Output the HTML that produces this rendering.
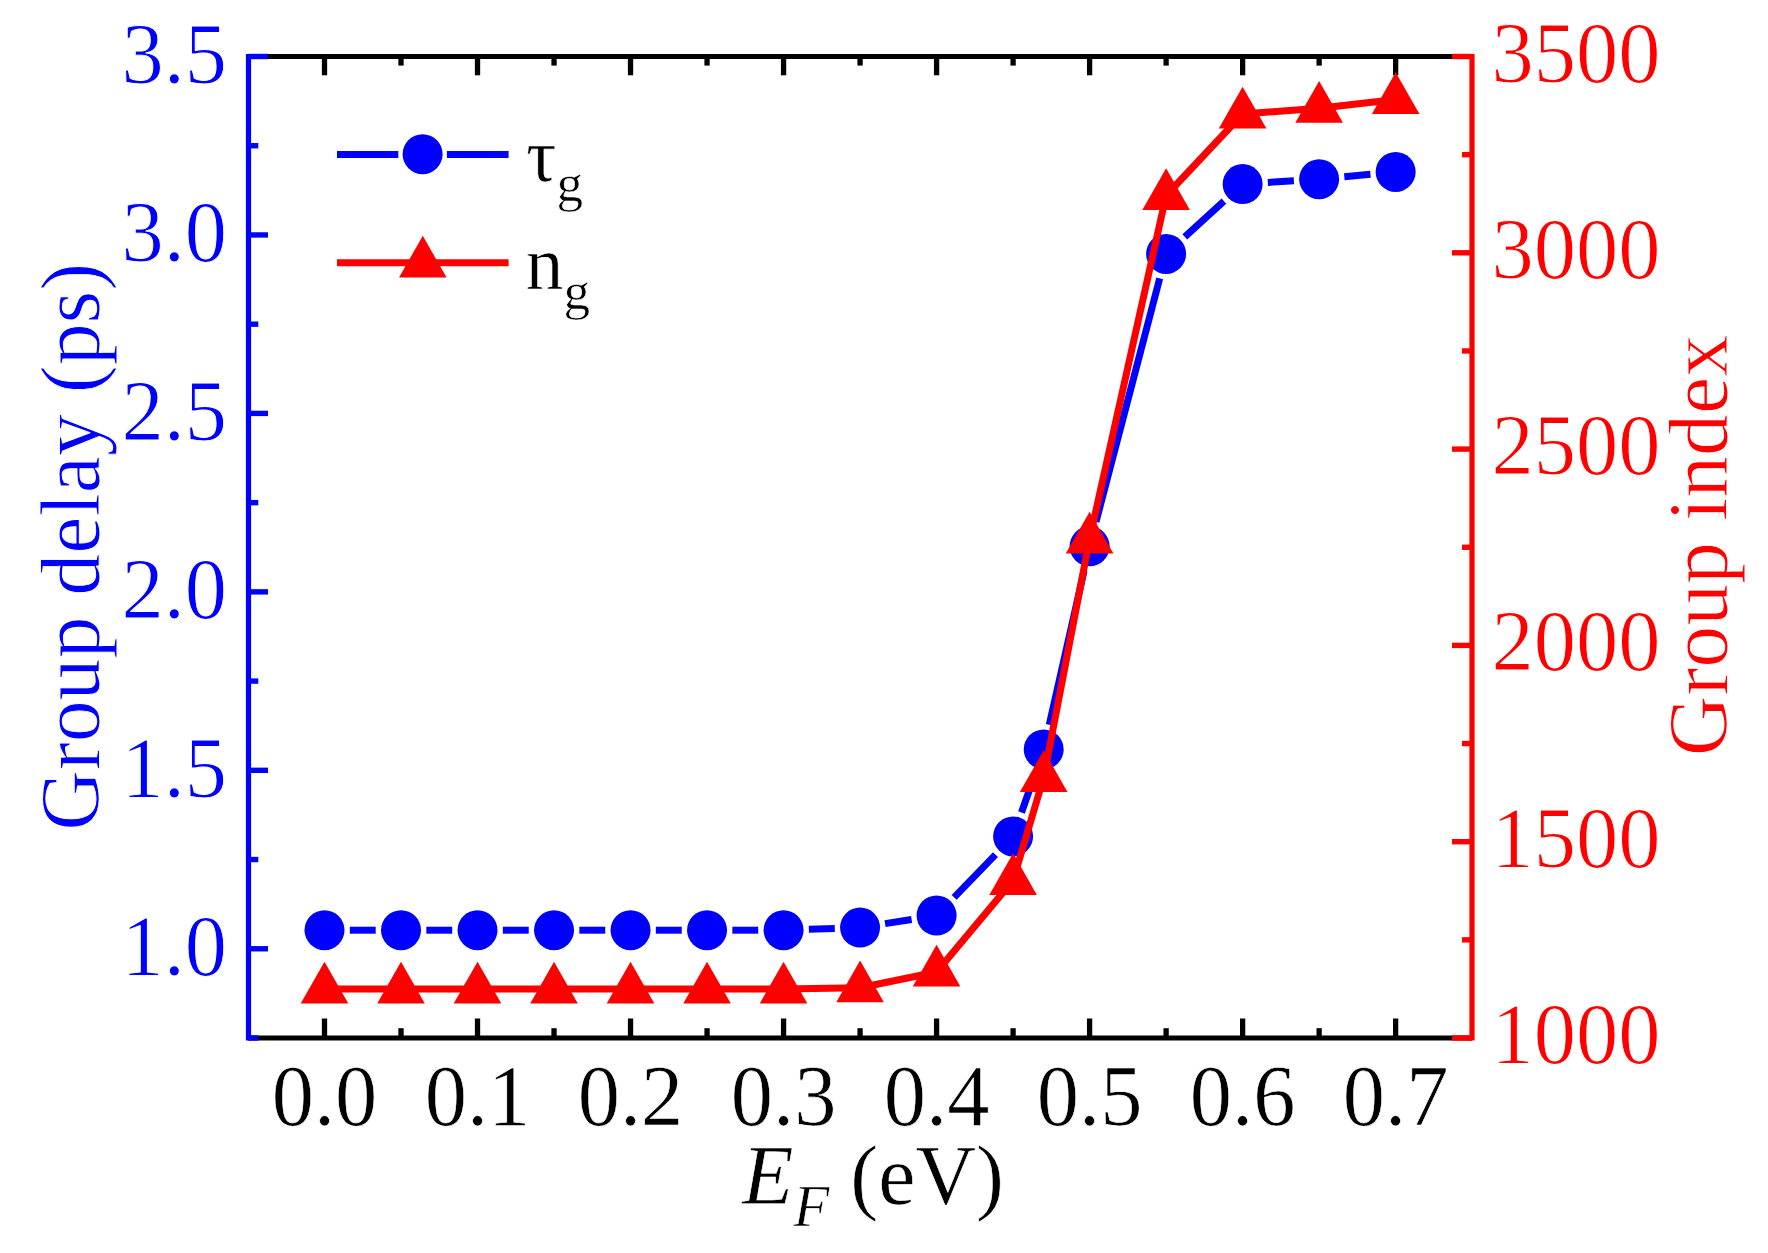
<!DOCTYPE html>
<html lang="en"><head><meta charset="utf-8"><title>Group delay and group index vs E_F</title>
<style>html,body{margin:0;padding:0;background:#fff}svg{display:block}text{font-family:"Liberation Serif","DejaVu Serif",serif;stroke:#fff;stroke-width:0.9px;stroke-linejoin:round}text.k,.k text{stroke-width:0.6px}</style></head><body>
<svg width="1768" height="1253" viewBox="0 0 1768 1253">
<rect width="1768" height="1253" fill="#fff"/>
<g stroke="#000" stroke-width="5.2" fill="none">
<line x1="248.5" y1="56.5" x2="1472.0" y2="56.5"/><line x1="248.5" y1="1038.0" x2="1472.0" y2="1038.0"/>
<line x1="324.50" y1="56.5" x2="324.50" y2="75.3" stroke-width="5.3"/>
<line x1="324.50" y1="1038.0" x2="324.50" y2="1018.5" stroke-width="5.3"/>
<line x1="401.01" y1="56.5" x2="401.01" y2="65.6" stroke-width="5.3"/>
<line x1="401.01" y1="1038.0" x2="401.01" y2="1028.2" stroke-width="5.3"/>
<line x1="477.52" y1="56.5" x2="477.52" y2="75.3" stroke-width="5.3"/>
<line x1="477.52" y1="1038.0" x2="477.52" y2="1018.5" stroke-width="5.3"/>
<line x1="554.03" y1="56.5" x2="554.03" y2="65.6" stroke-width="5.3"/>
<line x1="554.03" y1="1038.0" x2="554.03" y2="1028.2" stroke-width="5.3"/>
<line x1="630.54" y1="56.5" x2="630.54" y2="75.3" stroke-width="5.3"/>
<line x1="630.54" y1="1038.0" x2="630.54" y2="1018.5" stroke-width="5.3"/>
<line x1="707.05" y1="56.5" x2="707.05" y2="65.6" stroke-width="5.3"/>
<line x1="707.05" y1="1038.0" x2="707.05" y2="1028.2" stroke-width="5.3"/>
<line x1="783.56" y1="56.5" x2="783.56" y2="75.3" stroke-width="5.3"/>
<line x1="783.56" y1="1038.0" x2="783.56" y2="1018.5" stroke-width="5.3"/>
<line x1="860.07" y1="56.5" x2="860.07" y2="65.6" stroke-width="5.3"/>
<line x1="860.07" y1="1038.0" x2="860.07" y2="1028.2" stroke-width="5.3"/>
<line x1="936.58" y1="56.5" x2="936.58" y2="75.3" stroke-width="5.3"/>
<line x1="936.58" y1="1038.0" x2="936.58" y2="1018.5" stroke-width="5.3"/>
<line x1="1013.09" y1="56.5" x2="1013.09" y2="65.6" stroke-width="5.3"/>
<line x1="1013.09" y1="1038.0" x2="1013.09" y2="1028.2" stroke-width="5.3"/>
<line x1="1089.60" y1="56.5" x2="1089.60" y2="75.3" stroke-width="5.3"/>
<line x1="1089.60" y1="1038.0" x2="1089.60" y2="1018.5" stroke-width="5.3"/>
<line x1="1166.11" y1="56.5" x2="1166.11" y2="65.6" stroke-width="5.3"/>
<line x1="1166.11" y1="1038.0" x2="1166.11" y2="1028.2" stroke-width="5.3"/>
<line x1="1242.62" y1="56.5" x2="1242.62" y2="75.3" stroke-width="5.3"/>
<line x1="1242.62" y1="1038.0" x2="1242.62" y2="1018.5" stroke-width="5.3"/>
<line x1="1319.13" y1="56.5" x2="1319.13" y2="65.6" stroke-width="5.3"/>
<line x1="1319.13" y1="1038.0" x2="1319.13" y2="1028.2" stroke-width="5.3"/>
<line x1="1395.64" y1="56.5" x2="1395.64" y2="75.3" stroke-width="5.3"/>
<line x1="1395.64" y1="1038.0" x2="1395.64" y2="1018.5" stroke-width="5.3"/>
</g>
<g stroke="#0000ff" stroke-width="5.2" fill="none">
<line x1="248.5" y1="53.9" x2="248.5" y2="1040.6"/>
<line x1="248.5" y1="1038.00" x2="258.3" y2="1038.00" stroke-width="5.4"/>
<line x1="248.5" y1="948.77" x2="268.0" y2="948.77" stroke-width="5.4"/>
<line x1="248.5" y1="859.55" x2="258.3" y2="859.55" stroke-width="5.4"/>
<line x1="248.5" y1="770.32" x2="268.0" y2="770.32" stroke-width="5.4"/>
<line x1="248.5" y1="681.09" x2="258.3" y2="681.09" stroke-width="5.4"/>
<line x1="248.5" y1="591.86" x2="268.0" y2="591.86" stroke-width="5.4"/>
<line x1="248.5" y1="502.64" x2="258.3" y2="502.64" stroke-width="5.4"/>
<line x1="248.5" y1="413.41" x2="268.0" y2="413.41" stroke-width="5.4"/>
<line x1="248.5" y1="324.18" x2="258.3" y2="324.18" stroke-width="5.4"/>
<line x1="248.5" y1="234.95" x2="268.0" y2="234.95" stroke-width="5.4"/>
<line x1="248.5" y1="145.73" x2="258.3" y2="145.73" stroke-width="5.4"/>
<line x1="248.5" y1="56.50" x2="268.0" y2="56.50" stroke-width="5.4"/>
</g>
<g stroke="#ff0000" stroke-width="5.2" fill="none">
<line x1="1472.0" y1="53.9" x2="1472.0" y2="1040.6"/>
<line x1="1472.0" y1="1038.00" x2="1452.0" y2="1038.00" stroke-width="5.4"/>
<line x1="1472.0" y1="939.85" x2="1462.0" y2="939.85" stroke-width="5.4"/>
<line x1="1472.0" y1="841.70" x2="1452.0" y2="841.70" stroke-width="5.4"/>
<line x1="1472.0" y1="743.55" x2="1462.0" y2="743.55" stroke-width="5.4"/>
<line x1="1472.0" y1="645.40" x2="1452.0" y2="645.40" stroke-width="5.4"/>
<line x1="1472.0" y1="547.25" x2="1462.0" y2="547.25" stroke-width="5.4"/>
<line x1="1472.0" y1="449.10" x2="1452.0" y2="449.10" stroke-width="5.4"/>
<line x1="1472.0" y1="350.95" x2="1462.0" y2="350.95" stroke-width="5.4"/>
<line x1="1472.0" y1="252.80" x2="1452.0" y2="252.80" stroke-width="5.4"/>
<line x1="1472.0" y1="154.65" x2="1462.0" y2="154.65" stroke-width="5.4"/>
<line x1="1472.0" y1="56.50" x2="1452.0" y2="56.50" stroke-width="5.4"/>
</g>
<g stroke="#0000ff" stroke-width="7" fill="none">
<line x1="349.80" y1="930.20" x2="375.71" y2="930.20"/>
<line x1="426.31" y1="930.20" x2="452.22" y2="930.20"/>
<line x1="502.82" y1="930.20" x2="528.73" y2="930.20"/>
<line x1="579.33" y1="930.20" x2="605.24" y2="930.20"/>
<line x1="655.84" y1="930.20" x2="681.75" y2="930.20"/>
<line x1="732.35" y1="930.20" x2="758.26" y2="930.20"/>
<line x1="808.85" y1="929.34" x2="834.78" y2="928.46"/>
<line x1="885.06" y1="923.65" x2="911.59" y2="919.45"/>
<line x1="954.17" y1="897.31" x2="995.50" y2="854.59"/>
<line x1="1021.49" y1="812.53" x2="1035.30" y2="773.27"/>
<line x1="1049.27" y1="724.72" x2="1084.02" y2="570.98"/>
<line x1="1096.00" y1="521.82" x2="1159.71" y2="278.38"/>
<line x1="1184.80" y1="236.85" x2="1223.93" y2="201.15"/>
<line x1="1267.87" y1="182.48" x2="1293.88" y2="180.82"/>
<line x1="1344.32" y1="176.80" x2="1370.45" y2="174.30"/>
</g>
<g fill="#0000ff">
<circle cx="324.50" cy="930.20" r="20"/>
<circle cx="401.01" cy="930.20" r="20"/>
<circle cx="477.52" cy="930.20" r="20"/>
<circle cx="554.03" cy="930.20" r="20"/>
<circle cx="630.54" cy="930.20" r="20"/>
<circle cx="707.05" cy="930.20" r="20"/>
<circle cx="783.56" cy="930.20" r="20"/>
<circle cx="860.07" cy="927.60" r="20"/>
<circle cx="936.58" cy="915.50" r="20"/>
<circle cx="1013.09" cy="836.40" r="20"/>
<circle cx="1043.69" cy="749.40" r="20"/>
<circle cx="1089.60" cy="546.30" r="20"/>
<circle cx="1166.11" cy="253.90" r="20"/>
<circle cx="1242.62" cy="184.10" r="20"/>
<circle cx="1319.13" cy="179.20" r="20"/>
<circle cx="1395.64" cy="171.90" r="20"/>
</g>
<polyline points="324.50,989.00 401.01,989.00 477.52,989.00 554.03,989.00 630.54,989.00 707.05,989.00 783.56,989.00 860.07,987.70 936.58,972.00 1013.09,880.50 1043.69,777.50 1089.60,539.00 1166.11,195.50 1242.62,114.00 1319.13,108.30 1395.64,99.50" stroke="#ff0000" stroke-width="7" fill="none" stroke-linejoin="round"/>
<g fill="#ff0000">
<polygon points="324.50,961.70 300.70,1003.50 348.30,1003.50"/>
<polygon points="401.01,961.70 377.21,1003.50 424.81,1003.50"/>
<polygon points="477.52,961.70 453.72,1003.50 501.32,1003.50"/>
<polygon points="554.03,961.70 530.23,1003.50 577.83,1003.50"/>
<polygon points="630.54,961.70 606.74,1003.50 654.34,1003.50"/>
<polygon points="707.05,961.70 683.25,1003.50 730.85,1003.50"/>
<polygon points="783.56,961.70 759.76,1003.50 807.36,1003.50"/>
<polygon points="860.07,960.40 836.27,1002.20 883.87,1002.20"/>
<polygon points="936.58,944.70 912.78,986.50 960.38,986.50"/>
<polygon points="1013.09,853.20 989.29,895.00 1036.89,895.00"/>
<polygon points="1043.69,750.20 1019.89,792.00 1067.49,792.00"/>
<polygon points="1089.60,511.70 1065.80,553.50 1113.40,553.50"/>
<polygon points="1166.11,168.20 1142.31,210.00 1189.91,210.00"/>
<polygon points="1242.62,86.70 1218.82,128.50 1266.42,128.50"/>
<polygon points="1319.13,81.00 1295.33,122.80 1342.93,122.80"/>
<polygon points="1395.64,72.20 1371.84,114.00 1419.44,114.00"/>
</g>
<g stroke="#0000ff" stroke-width="7" fill="none"><line x1="337" y1="154.5" x2="398.3" y2="154.5"/><line x1="446.9" y1="154.5" x2="508.6" y2="154.5"/></g>
<circle cx="422.6" cy="154.2" r="20" fill="#0000ff"/>
<line x1="337" y1="262.7" x2="508.6" y2="262.7" stroke="#ff0000" stroke-width="7"/>
<g fill="#ff0000"><polygon points="422.80,235.80 399.00,277.60 446.60,277.60"/></g>
<text x="526" y="181" font-size="76" fill="#000" class="k">τ<tspan font-size="53.2" dy="20.3">g</tspan></text>
<text x="525.5" y="289" font-size="76" fill="#000" class="k">n<tspan font-size="53.2" dy="20.3">g</tspan></text>
<g font-size="84.5" fill="#0000ff" text-anchor="end">
<text transform="translate(227,82.8) scale(1,1.035)">3.5</text>
<text transform="translate(227,261.3) scale(1,1.035)">3.0</text>
<text transform="translate(227,439.7) scale(1,1.035)">2.5</text>
<text transform="translate(227,618.2) scale(1,1.035)">2.0</text>
<text transform="translate(227,796.6) scale(1,1.035)">1.5</text>
<text transform="translate(227,975.1) scale(1,1.035)">1.0</text>
</g>
<g font-size="84.5" fill="#ff0000" text-anchor="start">
<text transform="translate(1491.5,81.5) scale(1,1.035)">3500</text>
<text transform="translate(1491.5,277.8) scale(1,1.035)">3000</text>
<text transform="translate(1491.5,474.1) scale(1,1.035)">2500</text>
<text transform="translate(1491.5,670.4) scale(1,1.035)">2000</text>
<text transform="translate(1491.5,866.7) scale(1,1.035)">1500</text>
<text transform="translate(1491.5,1063.0) scale(1,1.035)">1000</text>
</g>
<g font-size="84.5" fill="#000" class="k" text-anchor="middle">
<text transform="translate(324.5,1125.3) scale(1,1.035)">0.0</text>
<text transform="translate(477.5,1125.3) scale(1,1.035)">0.1</text>
<text transform="translate(630.5,1125.3) scale(1,1.035)">0.2</text>
<text transform="translate(783.6,1125.3) scale(1,1.035)">0.3</text>
<text transform="translate(936.6,1125.3) scale(1,1.035)">0.4</text>
<text transform="translate(1089.6,1125.3) scale(1,1.035)">0.5</text>
<text transform="translate(1242.6,1125.3) scale(1,1.035)">0.6</text>
<text transform="translate(1395.6,1125.3) scale(1,1.035)">0.7</text>
</g>
<text x="742.3" y="1203.5" font-size="83.8" fill="#000" class="k"><tspan font-style="italic">E</tspan><tspan font-style="italic" font-size="58.7" dy="22.4">F</tspan><tspan dy="-22.4"> (eV)</tspan></text>
<text transform="translate(99.3,546.8) rotate(-90)" font-size="83.8" fill="#0000ff" text-anchor="middle">Group delay (ps)</text>
<text transform="translate(1727,545.5) rotate(-90)" font-size="83.8" fill="#ff0000" text-anchor="middle">Group index</text>
</svg></body></html>
